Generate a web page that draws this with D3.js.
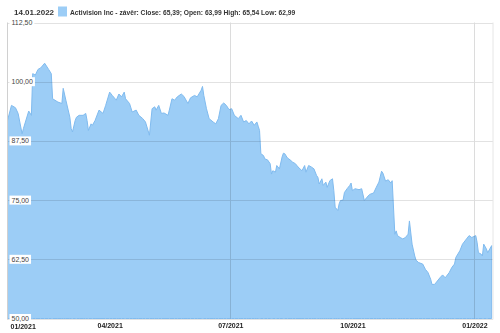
<!DOCTYPE html>
<html><head><meta charset="utf-8">
<script src="https://cdn.jsdelivr.net/npm/d3@7"></script>
<style>
html,body{margin:0;padding:0;background:#fff;}
svg{display:block;font-family:"Liberation Sans",Arial,sans-serif;}
</style></head>
<body><svg id="chart" width="500" height="333"></svg>
<script>
const headerDate = "14.01.2022";
const legendLabel = "Activision Inc - závěr: Close: 65,39; Open: 63,99 High: 65,54 Low: 62,99";
const yTicks = [50, 62.5, 75, 87.5, 100, 112.5];
const yTickLabels = ["50,00", "62,50", "75,00", "87,50", "100,00", "112,50"];
const xTicks = ["2021-04-01", "2021-07-01", "2021-10-01", "2022-01-01"];
const xTickLabels = ["04/2021", "07/2021", "10/2021", "01/2022"];
const xGridTicks = ["2021-07-01", "2022-01-01"];
const firstLabel = "01/2021";
const domainDates = ["2021-01-14", "2022-01-15"];

const dates = [
"2021-01-14","2021-01-17","2021-01-20","2021-01-22","2021-01-25","2021-01-26","2021-01-30","2021-02-01","2021-02-02","2021-02-04",
"2021-02-06","2021-02-08","2021-02-11","2021-02-14","2021-02-16","2021-02-17","2021-02-21","2021-02-24","2021-02-25","2021-02-27",
"2021-03-02","2021-03-03","2021-03-04","2021-03-06","2021-03-07","2021-03-09","2021-03-12","2021-03-14","2021-03-15","2021-03-16",
"2021-03-18","2021-03-19","2021-03-21","2021-03-24","2021-03-27","2021-03-29","2021-04-01","2021-04-03","2021-04-06","2021-04-08",
"2021-04-10","2021-04-12","2021-04-13","2021-04-16","2021-04-18","2021-04-21","2021-04-23","2021-04-26","2021-04-28","2021-05-01",
"2021-05-03","2021-05-05","2021-05-06","2021-05-08","2021-05-10","2021-05-12","2021-05-15","2021-05-16","2021-05-18","2021-05-20",
"2021-05-22","2021-05-25","2021-05-27","2021-05-30","2021-06-01","2021-06-04","2021-06-06","2021-06-09","2021-06-10","2021-06-11",
"2021-06-13","2021-06-15","2021-06-18","2021-06-20","2021-06-22","2021-06-24","2021-06-26","2021-06-28","2021-06-30","2021-07-02",
"2021-07-04","2021-07-07","2021-07-09","2021-07-11","2021-07-13","2021-07-15","2021-07-17","2021-07-19","2021-07-21","2021-07-22",
"2021-07-23","2021-07-24","2021-07-26","2021-07-27","2021-07-29","2021-07-31","2021-08-01","2021-08-02","2021-08-04","2021-08-05",
"2021-08-07","2021-08-09","2021-08-10","2021-08-11","2021-08-13","2021-08-15","2021-08-17","2021-08-19","2021-08-21","2021-08-24",
"2021-08-26","2021-08-27","2021-08-29","2021-08-31","2021-09-02","2021-09-04","2021-09-05","2021-09-06","2021-09-08","2021-09-09",
"2021-09-11","2021-09-12","2021-09-14","2021-09-16","2021-09-17","2021-09-18","2021-09-20","2021-09-21","2021-09-22","2021-09-24",
"2021-09-25","2021-09-27","2021-09-29","2021-09-30","2021-10-01","2021-10-03","2021-10-06","2021-10-08","2021-10-10","2021-10-12",
"2021-10-14","2021-10-17","2021-10-19","2021-10-21","2021-10-23","2021-10-24","2021-10-26","2021-10-28","2021-10-30","2021-10-31",
"2021-11-02","2021-11-03","2021-11-04","2021-11-06","2021-11-08","2021-11-10","2021-11-12","2021-11-13","2021-11-15","2021-11-17",
"2021-11-18","2021-11-20","2021-11-23","2021-11-25","2021-11-27","2021-11-29","2021-11-30","2021-12-02","2021-12-04","2021-12-06",
"2021-12-08","2021-12-10","2021-12-13","2021-12-15","2021-12-17","2021-12-18","2021-12-21","2021-12-23","2021-12-26","2021-12-28",
"2021-12-30","2022-01-02","2022-01-03","2022-01-04","2022-01-06","2022-01-07","2022-01-08","2022-01-10","2022-01-11","2022-01-14"
];
const closes = [
91.8,95.0,94.5,93.3,89.0,90.1,93.8,92.9,101.7,101.4,
102.6,102.9,103.9,102.6,101.7,96.4,95.7,95.4,98.6,96.1,
92.5,90.1,89.4,91.8,92.5,92.9,92.9,93.3,91.8,89.7,
91.1,90.8,91.8,94.0,93.3,95.0,97.8,97.1,96.1,97.4,
96.8,97.8,96.4,95.4,93.6,94.0,92.9,92.2,91.5,88.7,
94.3,94.7,94.0,95.0,93.3,93.4,92.9,94.0,96.4,96.1,
96.8,97.4,96.9,95.4,96.6,97.1,96.8,98.2,99.0,97.1,
94.3,92.2,91.5,91.1,92.2,95.0,95.5,95.0,94.1,94.3,
92.9,92.2,92.9,91.5,91.8,91.1,91.7,90.8,91.5,90.6,
89.7,84.8,84.4,83.7,83.5,82.7,80.5,81.2,80.9,82.3,
81.6,84.1,84.9,84.8,83.9,83.5,83.0,82.7,82.0,81.2,
82.3,80.9,82.3,82.0,81.6,80.2,79.8,78.4,79.5,78.1,
78.8,77.7,79.1,79.5,77.0,73.5,72.8,74.2,74.9,75.0,
76.6,77.4,78.1,78.6,77.0,77.4,77.2,77.4,74.9,75.6,
76.2,76.5,77.7,78.8,81.1,80.7,79.0,79.3,78.6,79.1,
67.8,68.5,67.5,67.1,66.8,67.1,67.8,70.6,65.7,63.2,
62.3,61.8,61.5,60.4,59.7,58.3,57.2,57.2,57.9,58.6,
59.2,58.6,59.7,60.8,61.5,62.9,64.3,65.7,66.8,67.5,
67.1,67.5,66.1,63.9,63.6,63.2,65.7,64.7,63.9,65.39
];

const parse = d3.timeParse("%Y-%m-%d");
const data = dates.map((d, i) => ({date: parse(d), v: closes[i]}));

const svg = d3.select("#chart");
const pLeft = 7.5, pRight = 493, pTop = 22.5, pBottom = 318.5;

const x = d3.scaleTime().domain(domainDates.map(parse)).range([pLeft, pRight]);
const y = d3.scaleLinear().domain([50, 112.5]).range([pBottom, pTop]);

// area
svg.append("path")
  .datum(data)
  .attr("fill", "#9ccdf6")
  .attr("stroke", "#80bbef")
  .attr("stroke-width", 1)
  .attr("d", d3.area().x(d => x(d.date)).y0(pBottom).y1(d => y(d.v)));

// gridlines (multiply so they show through area)
const grid = svg.append("g").style("mix-blend-mode", "multiply");
grid.selectAll("line.h").data(yTicks).enter().append("line")
  .attr("x1", pLeft).attr("x2", pRight)
  .attr("y1", d => Math.round(y(d)) + 0.5).attr("y2", d => Math.round(y(d)) + 0.5)
  .attr("stroke", "#e2e2e2").attr("stroke-width", 1);
grid.selectAll("line.v").data(xGridTicks).enter().append("line")
  .attr("x1", d => Math.round(x(parse(d))) + 0.5).attr("x2", d => Math.round(x(parse(d))) + 0.5)
  .attr("y1", pTop).attr("y2", pBottom)
  .attr("stroke", "#dcdcdc").attr("stroke-width", 1);

// borders
svg.append("line").attr("x1", pLeft).attr("x2", pLeft).attr("y1", pTop).attr("y2", pBottom + 1)
  .attr("stroke", "#d0d0d0");
svg.append("line").attr("x1", pRight).attr("x2", pRight).attr("y1", pTop).attr("y2", pBottom + 1)
  .attr("stroke", "#e6e6e6");

// y labels with white boxes
const yl = svg.append("g");
yTicks.forEach((t, i) => {
  const g = yl.append("g").attr("transform", `translate(${pLeft + 2},${y(t)})`);
  const txt = g.append("text").attr("x", 2).attr("y", 2.5)
    .attr("font-size", 7).attr("fill", "#444").text(yTickLabels[i]);
  const w = txt.node().getComputedTextLength();
  g.insert("rect", "text").attr("x", 0).attr("y", -4.5).attr("width", w + 4).attr("height", 9)
    .attr("fill", "#fff");
});

// x axis labels
const xa = svg.append("g").attr("transform", `translate(0,${pBottom})`);
xa.call(d3.axisBottom(x).tickValues(xTicks.map(parse)).tickSize(0)
  .tickFormat((d, i) => xTickLabels[i]));
xa.select(".domain").remove();
xa.selectAll("text").attr("font-size", 7).attr("font-weight", "bold").attr("fill", "#222")
  .attr("font-family", "Liberation Sans, Arial, sans-serif").attr("dy", "0.95em");
svg.append("text").attr("x", pLeft + 3).attr("y", pBottom + 10)
  .attr("font-size", 7).attr("font-weight", "bold").attr("fill", "#222").text(firstLabel);

// header
svg.append("text").attr("x", 14).attr("y", 15).attr("font-size", 8).attr("font-weight", "bold")
  .attr("fill", "#333").text(headerDate);
svg.append("rect").attr("x", 58).attr("y", 6.5).attr("width", 9).attr("height", 10)
  .attr("fill", "#9ccdf6");
svg.append("text").attr("x", 70).attr("y", 15).attr("font-size", 6.7).attr("font-weight", "bold")
  .attr("fill", "#333").text(legendLabel);
</script>
</body></html>
